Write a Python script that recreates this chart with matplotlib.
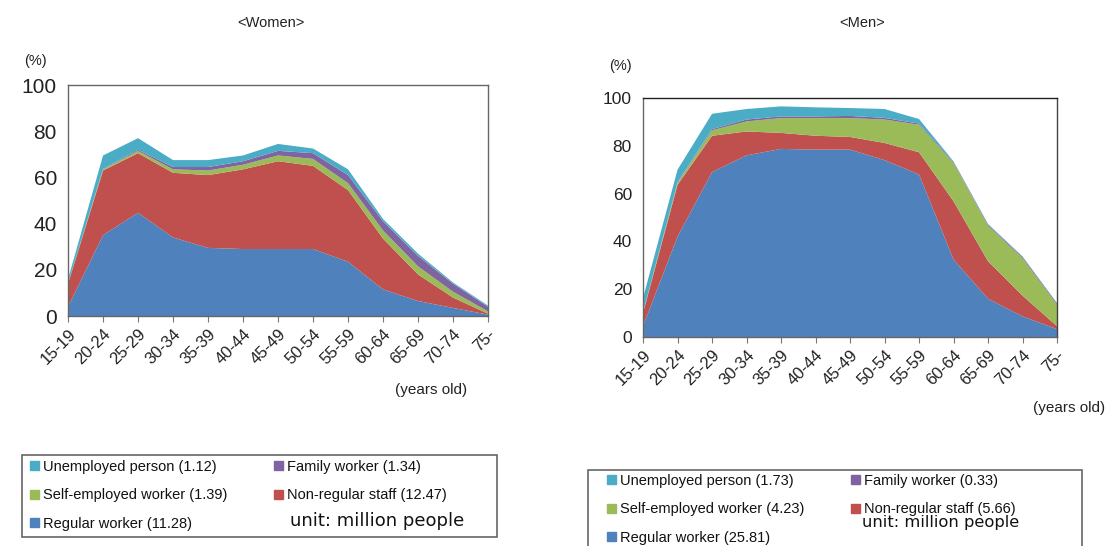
import numpy as np
import matplotlib
matplotlib.use('Agg')
import matplotlib.pyplot as plt
from matplotlib.patches import Patch, Rectangle

plt.rcParams['font.family'] = ['Liberation Sans', 'DejaVu Sans']

# 年龄段
ages = ['15-19', '20-24', '25-29', '30-34', '35-39', '40-44', '45-49',
        '50-54', '55-59', '60-64', '65-69', '70-74', '75-']

# 女性（%）
w_regular = [4, 35, 44.7, 34, 29.5, 29, 29, 29, 23.5, 11.5, 6.5, 3.5, 0.6]
w_nonreg = [10, 28, 25.8, 28, 31.5, 34.5, 38, 36, 31, 22, 11.5, 4.5, 0.4]
w_self = [0.2, 0.5, 1.0, 1.5, 2.0, 2.0, 2.5, 3.0, 3.0, 3.5, 3.5, 2.5, 1.0]
w_family = [0.1, 0.2, 0.5, 1.0, 1.5, 1.5, 2.0, 2.5, 3.5, 4.0, 4.5, 3.5, 2.0]
w_unemp = [1.7, 5.8, 5.0, 3.0, 3.0, 2.5, 3.0, 2.0, 2.5, 1.0, 1.0, 0.5, 0.5]

# 男性（%）
m_regular = [4.5, 42, 69, 76, 78.7, 78.4, 78.4, 74, 68, 32.4, 16, 8.6, 3.3]
m_nonreg = [5.5, 21.7, 15.2, 10, 6.7, 5.8, 5.3, 7.2, 9.3, 24.4, 15.7, 8.7, 1.2]
m_self = [0.3, 0.8, 2.3, 4.2, 6.2, 7.4, 7.9, 9.8, 11.5, 16, 14.9, 15.7, 9]
m_family = [0.1, 0.2, 0.5, 0.8, 0.7, 0.7, 0.9, 0.7, 0.5, 0.4, 0.4, 0.5, 0.5]
m_unemp = [5.9, 5.3, 6.4, 4.4, 4.2, 3.8, 3.3, 3.7, 1.9, 0.3, 0.3, 0.2, 0.2]

# 图例数值（百万人）
w_totals = {'unemp': '1.12', 'family': '1.34', 'self': '1.39', 'nonreg': '12.47', 'regular': '11.28'}
m_totals = {'unemp': '1.73', 'family': '0.33', 'self': '4.23', 'nonreg': '5.66', 'regular': '25.81'}

colors = ['#4F81BD', '#C0504D', '#9BBB59', '#8064A2', '#4BACC6']

fig = plt.figure(figsize=(11.1, 5.46), dpi=100)


def draw_panel(rect, layers, ytick_size, xtick_size):
    ax = fig.add_axes(rect)
    x = np.arange(len(ages))
    ax.stackplot(x, *layers, colors=colors, linewidth=0)
    ax.set_xlim(0, len(ages) - 1)
    ax.set_ylim(0, 100)
    ax.set_yticks([0, 20, 40, 60, 80, 100])
    ax.set_xticks(x)
    ax.set_xticklabels(ages, rotation=45, ha='right', rotation_mode='anchor')
    ax.tick_params(axis='y', length=0, labelsize=ytick_size, pad=8, labelcolor='#222')
    ax.tick_params(axis='x', length=4, labelsize=xtick_size, color='#777', labelcolor='#222')
    for s in ax.spines.values():
        s.set_color('#666')
        s.set_linewidth(1)
    return ax


ax1 = draw_panel([0.0613, 0.4212, 0.3784, 0.4231],
                 [w_regular, w_nonreg, w_self, w_family, w_unemp], 15, 12)
ax2 = draw_panel([0.5793, 0.3828, 0.3730, 0.4377],
                 [m_regular, m_nonreg, m_self, m_family, m_unemp], 12.5, 12)
ax2.spines['top'].set_color('#222')
ax2.spines['right'].set_color('#444')

# 标题与单位
fig.text(271 / 1110, 1 - 23 / 546, '<Women>', ha='center', va='center', fontsize=10.5, color='#222')
fig.text(862 / 1110, 1 - 23 / 546, '<Men>', ha='center', va='center', fontsize=10.5, color='#222')
fig.text(35 / 1110, 1 - 61 / 546, '(%)', ha='center', va='center', fontsize=10.5, color='#222')
fig.text(620 / 1110, 1 - 66 / 546, '(%)', ha='center', va='center', fontsize=10.5, color='#222')
fig.text(431 / 1110, 1 - 390 / 546, '(years old)', ha='center', va='center', fontsize=11, color='#222')
fig.text(1069 / 1110, 1 - 408 / 546, '(years old)', ha='center', va='center', fontsize=11, color='#222')


def draw_legend(totals, box, anchor, colspace, unit_xy, unit_size):
    h = [Patch(color=colors[4]), Patch(color=colors[2]), Patch(color=colors[0]),
         Patch(color=colors[3]), Patch(color=colors[1])]
    labels = ['Unemployed person (%s)' % totals['unemp'],
              'Self-employed worker (%s)' % totals['self'],
              'Regular worker (%s)' % totals['regular'],
              'Family worker (%s)' % totals['family'],
              'Non-regular staff (%s)' % totals['nonreg']]
    fig.legend(h, labels, ncol=2, loc='upper left', bbox_to_anchor=anchor,
               frameon=False, fontsize=10.5, handlelength=0.6, handleheight=0.6,
               handletextpad=0.3, labelspacing=0.98, columnspacing=colspace,
               borderaxespad=0, borderpad=0, labelcolor='#111')
    x0, y0, x1, y1 = box
    fig.patches.append(Rectangle((x0 / 1110, 1 - y1 / 546), (x1 - x0) / 1110, (y1 - y0) / 546,
                                 transform=fig.transFigure, fill=False,
                                 edgecolor='#666', linewidth=1.2))
    fig.text(unit_xy[0] / 1110, 1 - unit_xy[1] / 546, 'unit: million people',
             family='DejaVu Sans', fontsize=unit_size, va='center', ha='left', color='#111')


draw_legend(w_totals, (22, 455, 497, 537), (30 / 1110, 1 - 460 / 546), 3.2, (290, 521), 13)
draw_legend(m_totals, (588, 470, 1082, 560), (607 / 1110, 1 - 474 / 546), 3.2, (862, 523), 11.8)

fig.savefig('out.png', dpi=100)
